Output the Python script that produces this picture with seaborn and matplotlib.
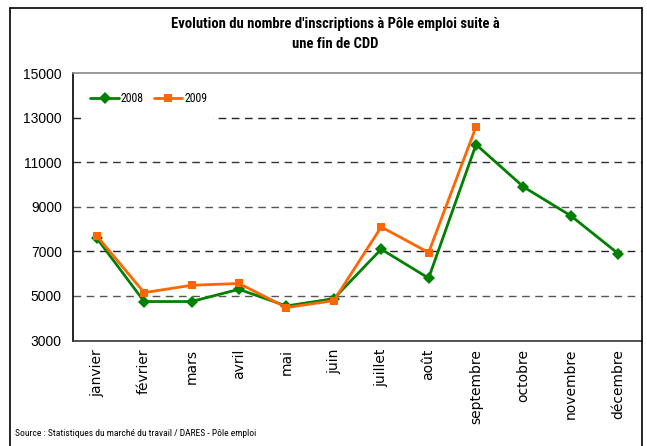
import numpy as np
import pandas as pd
import matplotlib
matplotlib.use("Agg")
import matplotlib.pyplot as plt
from matplotlib.lines import Line2D
from matplotlib.patches import Rectangle
from matplotlib import font_manager
import seaborn as sns

months = ["janvier", "février", "mars", "avril", "mai", "juin", "juillet",
          "août", "septembre", "octobre", "novembre", "décembre"]
v2008 = [7600, 4750, 4750, 5300, 4550, 4880, 7100, 5800, 11800, 9900, 8600, 6900]
v2009 = [7700, 5150, 5480, 5560, 4480, 4790, 8100, 6950, 12600, np.nan, np.nan, np.nan]
years = ["2008", "2009"]
yticks = [3000, 5000, 7000, 9000, 11000, 13000, 15000]
title = "Evolution du nombre d'inscriptions à Pôle emploi suite à\nune fin de CDD"
source = "Source : Statistiques du marché du travail / DARES - Pôle emploi"

df = pd.DataFrame({
    "mois": months * 2,
    "valeur": v2008 + v2009,
    "annee": [years[0]] * 12 + [years[1]] * 12,
})

sns.set_style("white")
plt.rcParams["font.family"] = ["Liberation Sans", "DejaVu Sans"]
plt.rcParams["text.color"] = "black"
plt.rcParams["xtick.color"] = "black"
plt.rcParams["ytick.color"] = "black"

# pick a narrow font if one is available
names = {f.name for f in font_manager.fontManager.ttflist}
cond = [f for f in font_manager.fontManager.ttflist
        if f.name == "DejaVu Sans" and "condensed" in str(f.stretch).lower()]
if "Liberation Sans Narrow" in names:
    narrow = dict(family=["Liberation Sans Narrow", "DejaVu Sans"])
    nscale = 1.0
elif "Roboto Condensed" in names:
    narrow = dict(family=["Roboto Condensed", "DejaVu Sans"])
    nscale = 1.0
elif cond:
    narrow = dict(family=["DejaVu Sans"], fontstretch="condensed")
    nscale = 0.85
else:
    narrow = dict(family=["Roboto", "Liberation Sans", "DejaVu Sans"])
    nscale = 0.85

fig = plt.figure(figsize=(6.47, 4.46), dpi=100)
W, H = 647, 446
ax = fig.add_axes([73 / W, 1 - 340.5 / H, (642 - 73) / W, (340.5 - 73.3) / H])

palette = {"2008": "#008000", "2009": "#FF6600"}
markers = {"2008": "D", "2009": "s"}
sns.lineplot(data=df, x="mois", y="valeur", hue="annee", style="annee",
             palette=palette, markers=markers, dashes=False, sort=False,
             linewidth=2.0, markersize=6, markeredgewidth=0, ax=ax, zorder=3)

ax.set_xlim(-0.5, len(months) - 0.5)
ax.set_ylim(yticks[0], yticks[-1])
ax.set_yticks(yticks)
ax.set_yticklabels([str(t) for t in yticks], fontsize=10)
ax.set_xticks(range(len(months)))
ax.set_xticklabels(months, rotation=90, fontsize=10, family=["DejaVu Sans"])
ax.tick_params(axis="x", which="major", length=0, pad=6)
ax.set_xticks(np.arange(-0.5, len(months)), minor=True)
ax.tick_params(axis="x", which="minor", length=5, width=1, color="#333333", direction="out")
ax.tick_params(axis="y", which="major", length=3, width=1, color="black", direction="out", pad=5)
ax.set_xlabel("")
ax.set_ylabel("")

grid_cols = ["#555555", "#222222", "#555555", "#333333", "#222222"]
for t, c in zip(yticks[1:-1], grid_cols):
    ax.axhline(t, color=c, lw=1.0, dashes=(5.5, 4), zorder=0)

ax.spines["left"].set_color("black")
ax.spines["left"].set_linewidth(1.2)
ax.spines["bottom"].set_color("#333333")
ax.spines["bottom"].set_linewidth(1.2)
ax.spines["top"].set_color("#8a8a8a")
ax.spines["top"].set_linewidth(1.2)
ax.spines["right"].set_visible(False)

# white legend area (hides grid as in the original)
ax.add_patch(Rectangle(((81 - 73) / 569, (340.5 - 122) / 267.2), (213 - 81) / 569,
                       (122 - 78) / 267.2, transform=ax.transAxes,
                       facecolor="white", edgecolor="none", zorder=1))

sns.move_legend(ax, loc="center left", bbox_to_anchor=(15 / 569, (340.5 - 99) / 267.2),
                ncol=2, title=None, frameon=False, fontsize=8.5,
                handlelength=2.4, handletextpad=0.15, columnspacing=0.9,
                borderpad=0.2, borderaxespad=0)
leg = ax.get_legend()
leg.set_zorder(5)
for h in leg.legend_handles:
    h.set_linewidth(2.0)
    h.set_markersize(6)
for t in leg.get_texts():
    t.set_fontproperties(font_manager.FontProperties(
        family=narrow["family"], stretch=narrow.get("fontstretch", "normal"),
        size=8.5 * nscale ** 0.5))

fig.text(335 / W, 1 - 17 / H, title, ha="center", va="top", fontsize=10.5 * nscale,
         fontweight="bold", linespacing=1.5, **narrow)
fig.text(15 / W, 1 - 434 / H, source, ha="left", va="center", fontsize=6.8 * nscale, **narrow)

# outer frame
for xs, ys in [((10 / W, 10 / W), (0, 1 - 8 / H)),
               ((10 / W, 642 / W), (1 - 8 / H, 1 - 8 / H)),
               ((642 / W, 642 / W), (0, 1 - 8 / H))]:
    fig.add_artist(Line2D(xs, ys, color="black", lw=1.2, transform=fig.transFigure))

fig.savefig("out.png", dpi=100)
